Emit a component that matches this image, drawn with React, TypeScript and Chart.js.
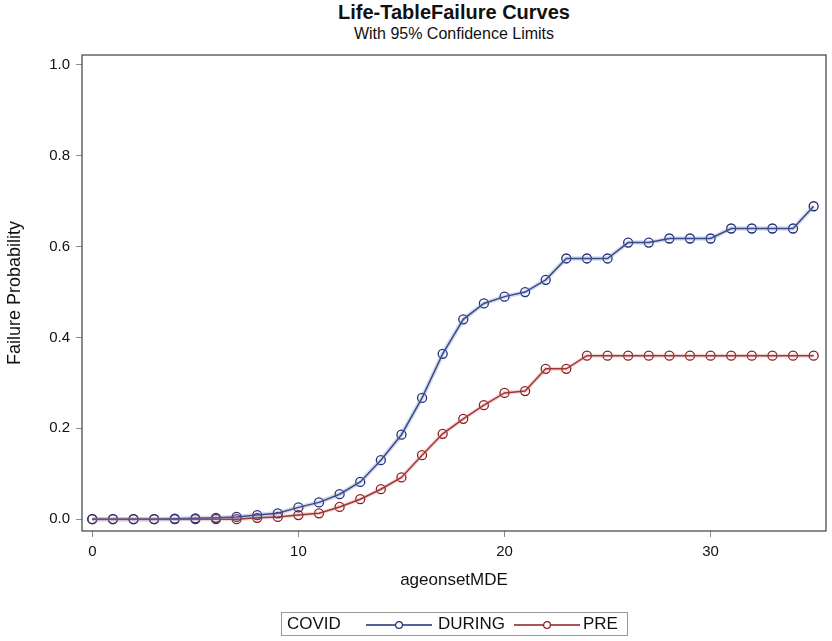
import React, { useEffect, useRef } from "react";
import { Chart, registerables } from "chart.js";

Chart.register(...registerables);

const ages = [0,1,2,3,4,5,6,7,8,9,10,11,12,13,14,15,16,17,18,19,20,21,22,23,24,25,26,27,28,29,30,31,32,33,34,35];
const during = [0,0,0,0,0.001,0.002,0.003,0.005,0.009,0.013,0.026,0.037,0.055,0.082,0.13,0.186,0.267,0.364,0.44,0.475,0.49,0.5,0.527,0.574,0.574,0.574,0.609,0.609,0.618,0.618,0.618,0.64,0.64,0.64,0.64,0.689];
const pre = [0,0,0,0,0,0,0,0,0.003,0.005,0.009,0.013,0.027,0.044,0.066,0.092,0.141,0.188,0.221,0.251,0.278,0.282,0.331,0.331,0.36,0.36,0.36,0.36,0.36,0.36,0.36,0.36,0.36,0.36,0.36,0.36];
const xTicks = [0, 10, 20, 30];
const yTicks = [0, 0.2, 0.4, 0.6, 0.8, 1.0];

const FONT = "'Liberation Sans', Arial, sans-serif";
const BLUE = "#1f2d78";
const RED = "#8e1c1c";

const framePlugin = {
  id: "frame",
  afterDraw(chart: any) {
    const { ctx, chartArea } = chart;
    ctx.save();
    ctx.strokeStyle = "#3a4046";
    ctx.lineWidth = 1.2;
    ctx.strokeRect(chartArea.left, chartArea.top, chartArea.right - chartArea.left, chartArea.bottom - chartArea.top);
    ctx.restore();
  },
};

export default function App() {
  const ref = useRef<HTMLCanvasElement>(null);
  useEffect(() => {
    const toPts = (arr: number[]) => arr.map((v, i) => ({ x: ages[i], y: v }));
    const chart = new Chart(ref.current!, {
      type: "line",
      data: {
        datasets: [
          {
            label: "DURING band",
            data: toPts(during),
            borderColor: "rgba(120,140,190,0.3)",
            borderWidth: 4.5,
            pointRadius: 0,
            fill: false,
          },
          {
            label: "PRE band",
            data: toPts(pre),
            borderColor: "rgba(210,120,120,0.28)",
            borderWidth: 4,
            pointRadius: 0,
            fill: false,
          },
          {
            label: "DURING",
            data: toPts(during),
            borderColor: BLUE,
            borderWidth: 1.5,
            pointRadius: 4.5,
            pointBorderWidth: 1.3,
            pointBackgroundColor: "rgba(255,255,255,0)",
            pointBorderColor: BLUE,
            fill: false,
          },
          {
            label: "PRE",
            data: toPts(pre),
            borderColor: RED,
            borderWidth: 1.5,
            pointRadius: 4.5,
            pointBorderWidth: 1.3,
            pointBackgroundColor: "rgba(255,255,255,0)",
            pointBorderColor: RED,
            fill: false,
          },
        ],
      },
      options: {
        animation: false,
        responsive: false,
        maintainAspectRatio: false,
        layout: { padding: { left: 0, top: 55, right: 6, bottom: 50 } },
        plugins: {
          legend: { display: false },
          tooltip: { enabled: false },
          title: { display: false },
        },
        scales: {
          x: {
            type: "linear",
            min: -0.5,
            max: 35.6,
            afterBuildTicks: (s: any) => { s.ticks = xTicks.map((v) => ({ value: v })); },
            afterFit: (s: any) => { s.height = 60; },
            grid: { drawOnChartArea: false, drawTicks: true, tickLength: 6, tickColor: "#8a8a8a", tickWidth: 1 },
            border: { display: false },
            ticks: { color: "#111", font: { family: FONT, size: 15 }, padding: 6, maxRotation: 0 },
            title: { display: true, text: "ageonsetMDE", color: "#111", font: { family: FONT, size: 17 }, padding: { top: 0, bottom: 0 } },
          },
          y: {
            type: "linear",
            min: -0.026,
            max: 1.022,
            afterBuildTicks: (s: any) => { s.ticks = yTicks.map((v) => ({ value: v })); },
            afterFit: (s: any) => { s.width = 82; },
            grid: { drawOnChartArea: false, drawTicks: true, tickLength: 6, tickColor: "#8a8a8a", tickWidth: 1 },
            border: { display: false },
            ticks: { color: "#111", font: { family: FONT, size: 15 }, padding: 6, callback: (v: any) => Number(v).toFixed(1) },
            title: { display: true, text: "Failure Probability", color: "#111", font: { family: FONT, size: 18 }, padding: { top: 4, bottom: 0 } },
          },
        },
      } as any,
      plugins: [framePlugin],
    });
    return () => chart.destroy();
  }, []);

  const sym = (color: string, left: number) => (
    <svg width="66" height="12" style={{ position: "absolute", left, top: 6 }}>
      <line x1="0" y1="6" x2="66" y2="6" stroke={color} strokeWidth="1.3" />
      <circle cx="33" cy="6" r="3.4" fill="white" stroke={color} strokeWidth="1.2" />
    </svg>
  );

  return (
    <div style={{ position: "fixed", left: 0, top: 0, width: 832, height: 641, background: "#fff", fontFamily: FONT }}>
      <div style={{ position: "absolute", left: 82, top: 1, width: 744, textAlign: "center", fontWeight: "bold", fontSize: 20, color: "#111" }}>
        Life-TableFailure Curves
      </div>
      <div style={{ position: "absolute", left: 82, top: 25, width: 744, textAlign: "center", fontSize: 16, color: "#111" }}>
        With 95% Confidence Limits
      </div>
      <canvas ref={ref} width={832} height={641} style={{ position: "absolute", left: 0, top: 0, width: 832, height: 641 }} />
      <div style={{ position: "absolute", left: 281, top: 612, width: 347, height: 24, border: "1px solid #999", boxSizing: "border-box", fontSize: 17, color: "#111" }}>
        <span style={{ position: "absolute", left: 5, top: 1 }}>COVID</span>
        {sym(BLUE, 84)}
        <span style={{ position: "absolute", left: 156, top: 1 }}>DURING</span>
        {sym(RED, 232)}
        <span style={{ position: "absolute", left: 301, top: 1 }}>PRE</span>
      </div>
    </div>
  );
}
